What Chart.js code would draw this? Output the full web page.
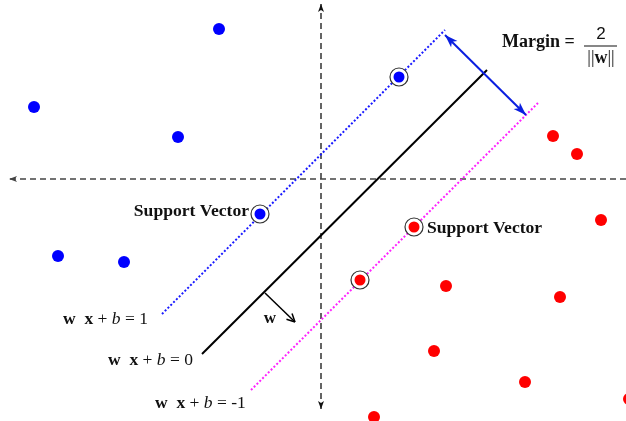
<!DOCTYPE html>
<html lang="en">
<head>
  <meta charset="UTF-8" />
  <title>Support Vector Machine</title>
  <script src="https://cdn.jsdelivr.net/npm/chart.js"></script>
  <style>
    html, body { margin: 0; padding: 0; background: #fff; }
    #wrap { width: 626px; height: 421px; position: relative; }
  </style>
</head>
<body>
  <div id="wrap"><canvas id="svm"></canvas></div>

  <script>
    // plot units = picture units (0..626 across, 0..421 down)
    const blueX = [219, 34, 178, 58, 124];
    const blueY = [29, 107, 137, 256, 262];
    const redX = [553, 577, 601, 446, 560, 434, 525, 374, 629];
    const redY = [136, 154, 220, 286, 297, 351, 382, 417, 399];
    const supportBlueX = [399, 260];
    const supportBlueY = [77, 214];
    const supportRedX = [414, 360];
    const supportRedY = [227, 280];

    // hyperplanes: [x0, y0, x1, y1]
    const planePlus = [162, 314, 445, 30];
    const planeZero = [202, 354, 487, 70];
    const planeMinus = [251, 390, 538, 103];
    const marginArrow = [445, 35, 526, 115];
    const wArrow = [265, 293, 295, 322];
    const axisH = [626, 179, 9, 179];
    const axisV = [321, 409, 321, 4];

    const pts = (xs, ys) => xs.map((x, i) => ({ x: x, y: ys[i] }));
    const seg = s => [{ x: s[0], y: s[1] }, { x: s[2], y: s[3] }];

    function lineSet(s, color, width, dash, extra) {
      return Object.assign({
        data: seg(s), showLine: true, pointRadius: 0, borderColor: color,
        borderWidth: width, borderDash: dash, clip: false
      }, extra || {});
    }

    // arrowheads at the ends of some line datasets
    const arrowPlugin = {
      id: "arrows",
      afterDatasetsDraw(chart) {
        const ctx = chart.ctx;
        const xs = chart.scales.x, ys = chart.scales.y;
        chart.data.datasets.forEach(ds => {
          if (!ds.arrow) return;
          const p = ds.data.map(d => [xs.getPixelForValue(d.x), ys.getPixelForValue(d.y)]);
          const ends = [];
          if (ds.arrow.end) ends.push([p[1], p[0]]);
          if (ds.arrow.start) ends.push([p[0], p[1]]);
          ends.forEach(([tip, from]) => {
            const a = Math.atan2(tip[1] - from[1], tip[0] - from[0]);
            const L = ds.arrow.len, W = ds.arrow.wid;
            ctx.save();
            ctx.translate(tip[0], tip[1]);
            ctx.rotate(a);
            ctx.beginPath();
            ctx.moveTo(0, 0);
            ctx.lineTo(-L, -W / 2);
            if (ds.arrow.open) {
              ctx.moveTo(0, 0);
              ctx.lineTo(-L, W / 2);
              ctx.strokeStyle = ds.borderColor;
              ctx.lineWidth = ds.borderWidth;
              ctx.setLineDash([]);
              ctx.stroke();
            } else {
              ctx.lineTo(-L * 0.75, 0);
              ctx.lineTo(-L, W / 2);
              ctx.closePath();
              ctx.fillStyle = ds.borderColor;
              ctx.fill();
            }
            ctx.restore();
          });
        });
      }
    };

    const SERIF = "'Liberation Serif', 'Times New Roman', serif";

    function runs(ctx, x, y, parts, size, align) {
      const fontOf = st => (st || "") + " " + size + "px " + SERIF;
      let total = 0;
      parts.forEach(r => { ctx.font = fontOf(r[1]); total += ctx.measureText(r[0]).width; });
      let cx = align === "right" ? x - total : align === "center" ? x - total / 2 : x;
      parts.forEach(r => {
        ctx.font = fontOf(r[1]);
        ctx.fillText(r[0], cx, y);
        cx += ctx.measureText(r[0]).width;
      });
    }

    const textPlugin = {
      id: "labels",
      afterDraw(chart) {
        const ctx = chart.ctx;
        const X = v => chart.scales.x.getPixelForValue(v);
        const Y = v => chart.scales.y.getPixelForValue(v);
        ctx.save();
        ctx.fillStyle = "#111";
        ctx.textBaseline = "middle";
        ctx.textAlign = "left";
        runs(ctx, X(249), Y(211), [["Support Vector", "bold"]], 17.6, "right");
        runs(ctx, X(427), Y(228), [["Support Vector", "bold"]], 17.6, "left");
        runs(ctx, X(502), Y(42), [["Margin =", "bold"]], 18, "left");
        // fraction 2 / ||w||
        ctx.font = "17px 'Liberation Sans', Arial, sans-serif";
        ctx.textAlign = "center";
        ctx.fillText("2", X(601), Y(34));
        ctx.textAlign = "left";
        runs(ctx, X(601), Y(58), [["||", ""], ["w", "bold"], ["||", ""]], 18, "center");
        ctx.strokeStyle = "#111";
        ctx.lineWidth = 1.2;
        ctx.beginPath();
        ctx.moveTo(X(584), Y(46));
        ctx.lineTo(X(617), Y(46));
        ctx.stroke();

        const eq = rhs => [["w", "bold"], ["  ", ""], ["x", "bold"], [" + ", ""], ["b", "italic"], [" = " + rhs, ""]];
        runs(ctx, X(63), Y(319), eq("1"), 17.5, "left");
        runs(ctx, X(108), Y(360), eq("0"), 17.5, "left");
        runs(ctx, X(155), Y(403), eq("-1"), 17.5, "left");
        runs(ctx, X(270), Y(319), [["w", "bold"]], 17, "center");
        ctx.restore();
      }
    };

    new Chart(document.getElementById("svm"), {
      type: "scatter",
      data: {
        datasets: [
          lineSet(axisH, "#444", 1.3, [6, 4], { order: 9, arrow: { end: true, len: 8, wid: 6 } }),
          lineSet(axisV, "#111", 1.3, [6, 4], { order: 9, arrow: { end: true, start: true, len: 8, wid: 6 } }),
          lineSet(planePlus, "#1a1aff", 2, [2, 2], { order: 8 }),
          lineSet(planeMinus, "#ff22ff", 2, [2, 2], { order: 8 }),
          lineSet(planeZero, "#000", 2, [], { order: 8 }),
          lineSet(marginArrow, "#0a1ee0", 2, [], { order: 7, arrow: { end: true, start: true, len: 13, wid: 9 } }),
          lineSet(wArrow, "#000", 1.5, [], { order: 7, arrow: { end: true, open: true, len: 8, wid: 8 } }),
          { data: pts(supportBlueX, supportBlueY).concat(pts(supportRedX, supportRedY)), pointRadius: 9,
            backgroundColor: "#fff", borderColor: "#333", pointBorderWidth: 1.2, order: 3, clip: false },
          { data: pts(blueX, blueY), pointRadius: 6, backgroundColor: "#0000ff", borderWidth: 0, order: 1, clip: false },
          { data: pts(supportBlueX, supportBlueY), pointRadius: 5.5, backgroundColor: "#0000ff", borderWidth: 0, order: 1, clip: false },
          { data: pts(redX, redY), pointRadius: 6, backgroundColor: "#ff0000", borderWidth: 0, order: 1, clip: false },
          { data: pts(supportRedX, supportRedY), pointRadius: 5.5, backgroundColor: "#ff0000", borderWidth: 0, order: 1, clip: false }
        ]
      },
      options: {
        responsive: true,
        maintainAspectRatio: false,
        animation: false,
        layout: { padding: 0, autoPadding: false },
        plugins: { legend: { display: false }, tooltip: { enabled: false } },
        scales: {
          x: { type: "linear", min: 0, max: 626, display: false },
          y: { type: "linear", min: 0, max: 421, reverse: true, display: false }
        }
      },
      plugins: [arrowPlugin, textPlugin]
    });
  </script>
</body>
</html>
